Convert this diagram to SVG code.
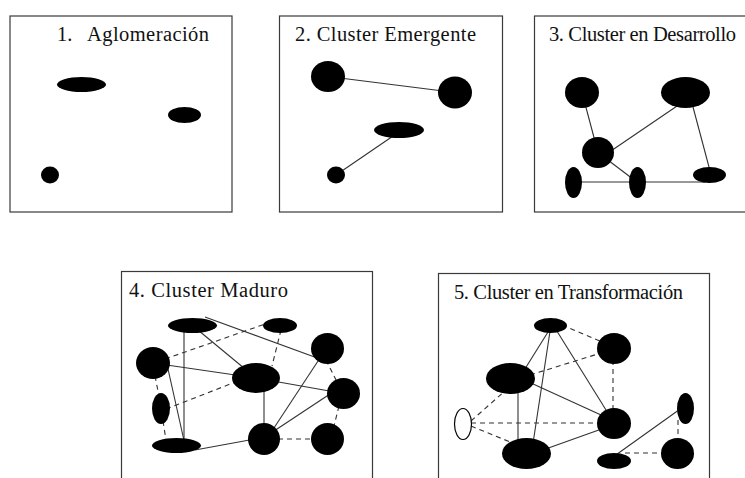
<svg xmlns="http://www.w3.org/2000/svg" width="745" height="478" viewBox="0 0 745 478">
  <style>
    .frame { fill: #ffffff; stroke: #3a3a3a; stroke-width: 1.2; }
    .title { font-size: 20.5px; fill: #111; }
    .node { fill: #000; }
    .hollow { fill: #fff; stroke: #000; stroke-width: 1.2; }
    .tie { stroke: #333; stroke-width: 1.1; fill: none; }
    .weak { stroke: #333; stroke-width: 1.1; fill: none; stroke-dasharray: 5 4; }
  </style>
  <rect width="745" height="478" fill="#fff"/>

  <!-- panel frames and headings -->
  <g id="frames">
    <rect class="frame" x="10" y="16" width="222" height="196"/>
    <rect class="frame" x="279.5" y="16" width="223" height="196"/>
    <rect class="frame" x="534.5" y="16" width="230" height="196"/>
    <rect class="frame" x="121.5" y="271.5" width="251" height="230"/>
    <rect class="frame" x="438.5" y="273.5" width="271" height="230"/>
  </g>
  <g id="headings" font-family="Liberation Serif, Times New Roman, serif">
    <text class="title" x="57" y="41">1.</text>
    <text class="title" x="87" y="41" textLength="122" lengthAdjust="spacing">Aglomeración</text>
    <text class="title" x="295" y="41" textLength="181" lengthAdjust="spacing">2. Cluster Emergente</text>
    <text class="title" x="549" y="41" textLength="187" lengthAdjust="spacing">3. Cluster en Desarrollo</text>
    <text class="title" x="129" y="297" textLength="159" lengthAdjust="spacing">4. Cluster Maduro</text>
    <text class="title" x="454" y="299" textLength="229" lengthAdjust="spacing">5. Cluster en Transformación</text>
  </g>

  <!-- connectors -->
  <g id="connectors">
    <!-- 2 -->
    <line class="tie" x1="328" y1="76.5" x2="455" y2="92.5"/>
    <line class="tie" x1="396" y1="134" x2="336" y2="175"/>
    <!-- 3 -->
    <line class="tie" x1="582" y1="92.5" x2="598" y2="152.5"/>
    <line class="tie" x1="605" y1="155" x2="680" y2="104"/>
    <line class="tie" x1="693" y1="107" x2="709" y2="167"/>
    <line class="tie" x1="598" y1="152.5" x2="637.5" y2="182.5"/>
    <line class="tie" x1="573.5" y1="182" x2="705" y2="182"/>
    <!-- 4 -->
    <line class="tie" x1="184" y1="326" x2="184" y2="445"/>
    <line class="tie" x1="192.5" y1="325.5" x2="256" y2="378"/>
    <line class="tie" x1="205" y1="317" x2="320" y2="359"/>
    <line class="tie" x1="153" y1="363" x2="256" y2="378"/>
    <line class="tie" x1="166" y1="360" x2="185" y2="445"/>
    <line class="tie" x1="256" y1="378" x2="343.5" y2="393.5"/>
    <line class="tie" x1="264" y1="378" x2="264" y2="439"/>
    <line class="tie" x1="270" y1="434" x2="320" y2="358"/>
    <line class="tie" x1="268" y1="435" x2="336" y2="390"/>
    <line class="tie" x1="195" y1="450" x2="255" y2="439"/>
    <line class="weak" x1="165" y1="359" x2="268" y2="323"/>
    <line class="weak" x1="281" y1="330" x2="272" y2="366"/>
    <line class="weak" x1="166" y1="409" x2="238" y2="381"/>
    <line class="weak" x1="155" y1="376" x2="159" y2="396"/>
    <line class="weak" x1="163" y1="421" x2="166" y2="440"/>
    <line class="weak" x1="326" y1="360" x2="337" y2="382"/>
    <line class="weak" x1="339" y1="406" x2="334" y2="426"/>
    <line class="weak" x1="278" y1="439" x2="313" y2="439"/>
    <!-- 5 -->
    <line class="tie" x1="550.5" y1="328" x2="523" y2="372"/>
    <line class="tie" x1="550.5" y1="328" x2="532" y2="450"/>
    <line class="tie" x1="555" y1="328" x2="611" y2="418"/>
    <line class="tie" x1="520" y1="378" x2="612" y2="420"/>
    <line class="tie" x1="518" y1="380" x2="518" y2="450"/>
    <line class="tie" x1="540" y1="451" x2="610" y2="426"/>
    <line class="tie" x1="613" y1="457" x2="683" y2="407"/>
    <line class="weak" x1="562" y1="325" x2="602" y2="342"/>
    <line class="weak" x1="530" y1="375" x2="601" y2="353"/>
    <line class="weak" x1="613" y1="360" x2="613" y2="412"/>
    <line class="weak" x1="471" y1="421" x2="506" y2="390"/>
    <line class="weak" x1="471" y1="423" x2="602" y2="423"/>
    <line class="weak" x1="471" y1="426" x2="515" y2="444"/>
    <line class="weak" x1="678" y1="420" x2="678" y2="442"/>
    <line class="weak" x1="625" y1="453" x2="666" y2="453"/>
  </g>

  <!-- 1. Aglomeración -->
  <g id="p1-a"><ellipse class="node" cx="81.5" cy="84.5" rx="24.5" ry="7.5"/></g>
  <g id="p1-b"><ellipse class="node" cx="184.5" cy="115" rx="16.5" ry="8"/></g>
  <g id="p1-c"><ellipse class="node" cx="50" cy="175" rx="9" ry="8.5"/></g>

  <!-- 2. Cluster Emergente -->
  <g id="p2-a"><ellipse class="node" cx="328" cy="76.5" rx="17" ry="15.5"/></g>
  <g id="p2-b"><ellipse class="node" cx="455" cy="92.5" rx="17" ry="16"/></g>
  <g id="p2-c"><ellipse class="node" cx="399" cy="130" rx="25" ry="8"/></g>
  <g id="p2-d"><ellipse class="node" cx="336" cy="175" rx="9" ry="8.5"/></g>

  <!-- 3. Cluster en Desarrollo -->
  <g id="p3-a"><ellipse class="node" cx="582" cy="92.5" rx="17" ry="15.5"/></g>
  <g id="p3-b"><ellipse class="node" cx="685.5" cy="92.5" rx="24.5" ry="15.5"/></g>
  <g id="p3-c"><ellipse class="node" cx="598" cy="152.5" rx="16" ry="15.5"/></g>
  <g id="p3-d"><ellipse class="node" cx="573.5" cy="182.5" rx="8.5" ry="15.5"/></g>
  <g id="p3-e"><ellipse class="node" cx="637.5" cy="182.5" rx="8.5" ry="15.5"/></g>
  <g id="p3-f"><ellipse class="node" cx="709.5" cy="175" rx="16.5" ry="8"/></g>

  <!-- 4. Cluster Maduro -->
  <g id="p4-a"><ellipse class="node" cx="192.5" cy="325.5" rx="24.5" ry="7.5"/></g>
  <g id="p4-b"><ellipse class="node" cx="280" cy="325.5" rx="17" ry="7.5"/></g>
  <g id="p4-c"><ellipse class="node" cx="153" cy="363" rx="17" ry="16"/></g>
  <g id="p4-d"><ellipse class="node" cx="327.5" cy="348.5" rx="16.5" ry="15.5"/></g>
  <g id="p4-e"><ellipse class="node" cx="256" cy="378" rx="24" ry="15"/></g>
  <g id="p4-f"><ellipse class="node" cx="343.5" cy="393.5" rx="16.5" ry="15.5"/></g>
  <g id="p4-g"><ellipse class="node" cx="161" cy="408.5" rx="9" ry="15.5"/></g>
  <g id="p4-h"><ellipse class="node" cx="264" cy="439" rx="16" ry="16"/></g>
  <g id="p4-i"><ellipse class="node" cx="327.5" cy="439" rx="16.5" ry="16"/></g>
  <g id="p4-j"><ellipse class="node" cx="176.5" cy="445.5" rx="24.5" ry="7.5"/></g>

  <!-- 5. Cluster en Transformación -->
  <g id="p5-a"><ellipse class="node" cx="550.5" cy="325.5" rx="16.5" ry="7.5"/></g>
  <g id="p5-b"><ellipse class="node" cx="614" cy="348.5" rx="17" ry="15.5"/></g>
  <g id="p5-c"><ellipse class="node" cx="510.5" cy="378.5" rx="24.5" ry="15.5"/></g>
  <g id="p5-d"><ellipse class="hollow" cx="463" cy="424" rx="8.5" ry="15.5"/></g>
  <g id="p5-e"><ellipse class="node" cx="614" cy="423.5" rx="17" ry="15.5"/></g>
  <g id="p5-f"><ellipse class="node" cx="526.5" cy="453.5" rx="24.5" ry="15.5"/></g>
  <g id="p5-g"><ellipse class="node" cx="685.5" cy="408.5" rx="8.5" ry="15.5"/></g>
  <g id="p5-h"><ellipse class="node" cx="677.5" cy="453.5" rx="16.5" ry="15.5"/></g>
  <g id="p5-i"><ellipse class="node" cx="614" cy="461" rx="17" ry="8"/></g>
</svg>
